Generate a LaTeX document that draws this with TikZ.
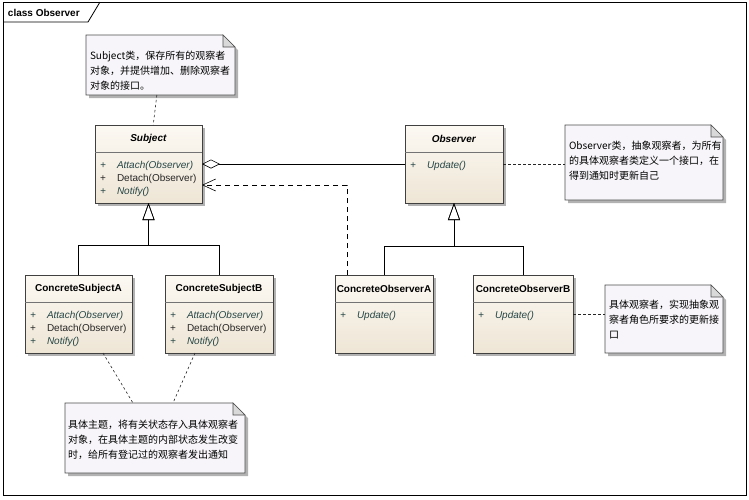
\documentclass[tikz,border=0pt]{standalone}
\usepackage{fontspec}
\setmainfont{Liberation Sans}
\newfontfamily\cjk{Noto Sans CJK SC}
\usetikzlibrary{arrows.meta,shadows}
\definecolor{classtop}{RGB}{252,249,243}
\definecolor{classbot}{RGB}{238,229,213}
\definecolor{notefill}{RGB}{247,245,249}
\definecolor{absfont}{RGB}{38,70,70}

\begin{document}
\begin{tikzpicture}[
    x=1pt,y=-1pt,
    every node/.style={
        inner sep=0pt,
        outer sep=0pt,
    },
    frameline/.style={
        draw=black,
        line width=.8pt,
    },
    classbox/.style n args={2}{
        draw=black!75,
        line width=.6pt,
        rectangle,
        top color=classtop,
        bottom color=classbot,
        minimum width=#1pt,
        minimum height=#2pt,
        drop shadow={shadow xshift=3pt,shadow yshift=-3pt,fill=black!30,opacity=1},
    },
    classline/.style={
        draw=black!55,
        line width=.5pt,
    },
    classname/.style={
        font=\bfseries\fontsize{10}{12}\selectfont,
    },
    member/.style={
        anchor=west,
        font=\fontsize{10}{12}\selectfont,
    },
    abstract/.style={
        font=\itshape\fontsize{10}{12}\selectfont,
        text=absfont,
    },
    plain/.style={
        text=black!85,
    },
    notebox/.style n args={2}{
        rectangle,
        minimum width=#1pt,
        minimum height=#2pt,
    },
    noteline/.style={
        draw=black!70,
        line width=.6pt,
        fill=notefill,
        drop shadow={shadow xshift=3pt,shadow yshift=-3pt,fill=black!30,opacity=1},
    },
    notefold/.style={
        draw=black!70,
        line width=.6pt,
        fill=black!15,
    },
    notetext/.style={
        anchor=north west,
        align=left,
        font=\cjk\fontsize{10}{15}\selectfont,
    },
    notelink/.style={
        draw=black!85,
        line width=.6pt,
        dash pattern=on 2.5pt off 2.5pt,
    },
    depend/.style={
        draw=black,
        line width=.6pt,
        dash pattern=on 5pt off 4pt,
        -{Straight Barb[length=13pt,width=12pt]},
    },
    inherit/.style={
        draw=black,
        line width=.6pt,
        -{Triangle[open,length=17pt,width=12pt]},
    },
    aggr/.style={
        draw=black,
        line width=.6pt,
        -{Diamond[open,length=18pt,width=9pt]},
    }
]
    \useasboundingbox (0,0) rectangle (749,499);
    \draw[frameline] (3,2) rectangle (746,495);
    \draw[frameline] (3,22) -- (88,22) -- (100,2);
    \node[classname,anchor=west] (title) at (8,13) {class Observer};

    \node[classbox={107}{78}] (subject) at (148.5,164) {};
    \node[classbox={98}{78}] (observer) at (454,164) {};
    \node[classbox={107}{78}] (csubjA) at (78.5,314) {};
    \node[classbox={108}{78}] (csubjB) at (219,314) {};
    \node[classbox={98}{78}] (cobsA) at (384,314) {};
    \node[classbox={100}{78}] (cobsB) at (523,314) {};

    \foreach \cls/\name in {%
        subject/\textit{Subject},
        observer/\textit{Observer},
        csubjA/ConcreteSubjectA,
        csubjB/ConcreteSubjectB,
        cobsA/ConcreteObserverA,
        cobsB/ConcreteObserverB%no comma after
    }{
        \node[classname] at ([yshift=-14pt]\cls.north) {\name};
        \draw[classline] ([yshift=-27pt]\cls.north west) -- ([yshift=-27pt]\cls.north east);
    }
    \foreach \cls in {subject,csubjA,csubjB}{
        \foreach \sty/\meth [count=\i] in {abstract/Attach(Observer),plain/Detach(Observer),abstract/Notify()}{
            \node[member,\sty] at ([xshift=5pt,yshift=-28pt-13pt*\i]\cls.north west) {+};
            \node[member,\sty] at ([xshift=22pt,yshift=-28pt-13pt*\i]\cls.north west) {\meth};
        }
    }
    \foreach \cls in {observer,cobsA,cobsB}{
        \node[member,abstract] at ([xshift=5pt,yshift=-41pt]\cls.north west) {+};
        \node[member,abstract] at ([xshift=22pt,yshift=-41pt]\cls.north west) {Update()};
    }

    \node[notebox={149}{60}] (subjnote) at (160.5,65) {};
    \node[notebox={158}{75}] (obsnote) at (644,162.5) {};
    \node[notebox={118}{68}] (obsBnote) at (664,319) {};
    \node[notebox={180}{70}] (concnote) at (155,438) {};
    \foreach \n in {subjnote,obsnote,obsBnote,concnote}{
        \path[noteline] (\n.north west) -- ([xshift=-12pt]\n.north east) -- ([yshift=-12pt]\n.north east)
            -- (\n.south east) -- (\n.south west) -- cycle;
        \filldraw[notefold] ([xshift=-12pt]\n.north east) |- ([yshift=-12pt]\n.north east) -- cycle;
    }
    \node[notetext] (subjtxt) at ([xshift=4pt,yshift=-16pt]subjnote.north west)
        {Subject类，保存所有的观察者\\对象，并提供增加、删除观察者\\对象的接口。};
    \node[notetext] (obstxt) at ([xshift=4pt,yshift=-16pt]obsnote.north west)
        {Observer类，抽象观察者，为所有\\的具体观察者类定义一个接口，在\\得到通知时更新自己};
    \node[notetext] (obsBtxt) at ([xshift=4pt,yshift=-15pt]obsBnote.north west)
        {具体观察者，实现抽象观\\察者角色所要求的更新接\\口};
    \node[notetext] (conctxt) at ([xshift=3pt,yshift=-17pt]concnote.north west)
        {具体主题，将有关状态存入具体观察者\\对象，在具体主题的内部状态发生改变\\时，给所有登记过的观察者发出通知};

    \coordinate (sjoin) at (subject.south |- 0,245);
    \coordinate (ojoin) at (observer.south |- 0,246);
    \draw[inherit] (csubjA.north) |- (sjoin) -- (subject.south);
    \draw[inherit] (csubjB.north) |- (sjoin) -- (subject.south);
    \draw[inherit] (cobsA.north) |- (ojoin) -- (observer.south);
    \draw[inherit] (cobsB.north) |- (ojoin) -- (observer.south);
    \draw[aggr] (observer.west) -- (subject.east);
    \draw[depend] ([xshift=12pt]cobsA.north west) |- ([yshift=-21pt]subject.east);

    \draw[notelink] (subjnote) -- (subject);
    \draw[notelink] (observer.east) -- (observer.east -| obsnote.west);
    \draw[notelink] (cobsB.east) -- (cobsB.east -| obsBnote.west);
    \draw[notelink] ([xshift=24.5pt]csubjA.south) -- ([xshift=-22pt]concnote.north);
    \draw[notelink] ([xshift=-24pt]csubjB.south) -- ([xshift=18pt]concnote.north);
\end{tikzpicture}
\end{document}
